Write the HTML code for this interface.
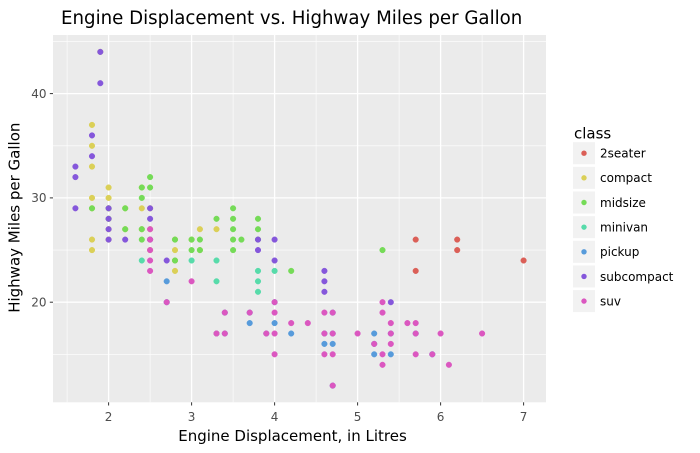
<!DOCTYPE html>
<html><head><meta charset="utf-8"><style>
html,body{margin:0;padding:0;background:#fff;}
svg{display:block;font-family:"DejaVu Sans","Liberation Sans",sans-serif;}
</style></head><body>
<svg width="700" height="453" viewBox="0 0 700 453" xmlns="http://www.w3.org/2000/svg">
<rect x="0" y="0" width="700" height="453" fill="#fff"/>
<text x="61" y="24" font-size="18.2" fill="#000">Engine Displacement vs. Highway Miles per Gallon</text>
<rect x="53" y="35" width="493" height="367.3" fill="#EBEBEB"/>
<g stroke="#fff" stroke-width="0.6">
<line x1="67.1" y1="35" x2="67.1" y2="402.3"/><line x1="150.1" y1="35" x2="150.1" y2="402.3"/><line x1="233.1" y1="35" x2="233.1" y2="402.3"/><line x1="316.1" y1="35" x2="316.1" y2="402.3"/><line x1="399.1" y1="35" x2="399.1" y2="402.3"/><line x1="482.1" y1="35" x2="482.1" y2="402.3"/>
<line x1="53" y1="354.3" x2="546" y2="354.3"/><line x1="53" y1="250.1" x2="546" y2="250.1"/><line x1="53" y1="145.8" x2="546" y2="145.8"/><line x1="53" y1="41.4" x2="546" y2="41.4"/>
</g>
<g stroke="#fff" stroke-width="1.3">
<line x1="108.6" y1="35" x2="108.6" y2="402.3"/><line x1="191.6" y1="35" x2="191.6" y2="402.3"/><line x1="274.6" y1="35" x2="274.6" y2="402.3"/><line x1="357.6" y1="35" x2="357.6" y2="402.3"/><line x1="440.6" y1="35" x2="440.6" y2="402.3"/><line x1="523.6" y1="35" x2="523.6" y2="402.3"/>
<line x1="53" y1="302.2" x2="546" y2="302.2"/><line x1="53" y1="197.9" x2="546" y2="197.9"/><line x1="53" y1="93.6" x2="546" y2="93.6"/>
</g>
<g stroke="#333" stroke-width="1">
<line x1="108.6" y1="402.3" x2="108.6" y2="405.5"/><line x1="191.6" y1="402.3" x2="191.6" y2="405.5"/><line x1="274.6" y1="402.3" x2="274.6" y2="405.5"/><line x1="357.6" y1="402.3" x2="357.6" y2="405.5"/><line x1="440.6" y1="402.3" x2="440.6" y2="405.5"/><line x1="523.6" y1="402.3" x2="523.6" y2="405.5"/>
<line x1="49.8" y1="302.2" x2="53" y2="302.2"/><line x1="49.8" y1="197.9" x2="53" y2="197.9"/><line x1="49.8" y1="93.6" x2="53" y2="93.6"/>
</g>
<g font-size="12" fill="#4D4D4D" text-anchor="middle">
<text x="108.6" y="421">2</text><text x="191.6" y="421">3</text><text x="274.6" y="421">4</text><text x="357.6" y="421">5</text><text x="440.6" y="421">6</text><text x="523.6" y="421">7</text>
</g>
<g font-size="12" fill="#4D4D4D" text-anchor="end">
<text x="46.5" y="306.5">20</text><text x="46.5" y="202.2">30</text><text x="46.5" y="97.9">40</text>
</g>
<text x="292.5" y="441" font-size="15" fill="#000" text-anchor="middle">Engine Displacement, in Litres</text>
<text transform="translate(19.5,217.7) rotate(-90)" font-size="15" fill="#000" text-anchor="middle">Highway Miles per Gallon</text>

<g fill="#DB5F57" stroke="#DB5F57" stroke-width="0.5">
<circle cx="415.7" cy="239.6" r="2.8"/><circle cx="415.7" cy="270.9" r="2.8"/><circle cx="457.2" cy="239.6" r="2.8"/><circle cx="457.2" cy="250.1" r="2.8"/><circle cx="523.6" cy="260.5" r="2.8"/>
</g>
<g fill="#DBD057" stroke="#DBD057" stroke-width="0.5">
<circle cx="92.0" cy="208.3" r="2.8"/><circle cx="108.6" cy="187.5" r="2.8"/><circle cx="108.6" cy="197.9" r="2.8"/><circle cx="175.0" cy="239.6" r="2.8"/><circle cx="199.9" cy="229.2" r="2.8"/><circle cx="92.0" cy="239.6" r="2.8"/><circle cx="92.0" cy="250.1" r="2.8"/><circle cx="108.6" cy="218.8" r="2.8"/><circle cx="108.6" cy="229.2" r="2.8"/><circle cx="175.0" cy="250.1" r="2.8"/><circle cx="199.9" cy="250.1" r="2.8"/><circle cx="141.8" cy="208.3" r="2.8"/><circle cx="141.8" cy="229.2" r="2.8"/><circle cx="150.1" cy="250.1" r="2.8"/><circle cx="150.1" cy="229.2" r="2.8"/><circle cx="125.2" cy="229.2" r="2.8"/><circle cx="125.2" cy="208.3" r="2.8"/><circle cx="141.8" cy="187.5" r="2.8"/><circle cx="191.6" cy="239.6" r="2.8"/><circle cx="216.5" cy="229.2" r="2.8"/><circle cx="92.0" cy="197.9" r="2.8"/><circle cx="92.0" cy="166.6" r="2.8"/><circle cx="92.0" cy="145.8" r="2.8"/><circle cx="92.0" cy="124.9" r="2.8"/><circle cx="108.6" cy="208.3" r="2.8"/><circle cx="108.6" cy="239.6" r="2.8"/><circle cx="175.0" cy="260.5" r="2.8"/><circle cx="100.3" cy="51.9" r="2.8"/><circle cx="150.1" cy="208.3" r="2.8"/><circle cx="175.0" cy="270.9" r="2.8"/>
</g>
<g fill="#75DB57" stroke="#75DB57" stroke-width="0.5">
<circle cx="175.0" cy="260.5" r="2.8"/><circle cx="199.9" cy="250.1" r="2.8"/><circle cx="291.2" cy="270.9" r="2.8"/><circle cx="141.8" cy="229.2" r="2.8"/><circle cx="141.8" cy="197.9" r="2.8"/><circle cx="199.9" cy="239.6" r="2.8"/><circle cx="233.1" cy="208.3" r="2.8"/><circle cx="241.4" cy="239.6" r="2.8"/><circle cx="141.8" cy="239.6" r="2.8"/><circle cx="141.8" cy="187.5" r="2.8"/><circle cx="150.1" cy="239.6" r="2.8"/><circle cx="216.5" cy="218.8" r="2.8"/><circle cx="150.1" cy="187.5" r="2.8"/><circle cx="150.1" cy="177.1" r="2.8"/><circle cx="233.1" cy="229.2" r="2.8"/><circle cx="233.1" cy="239.6" r="2.8"/><circle cx="191.6" cy="239.6" r="2.8"/><circle cx="191.6" cy="250.1" r="2.8"/><circle cx="233.1" cy="250.1" r="2.8"/><circle cx="258.0" cy="239.6" r="2.8"/><circle cx="258.0" cy="229.2" r="2.8"/><circle cx="258.0" cy="218.8" r="2.8"/><circle cx="382.5" cy="250.1" r="2.8"/><circle cx="125.2" cy="208.3" r="2.8"/><circle cx="125.2" cy="229.2" r="2.8"/><circle cx="233.1" cy="218.8" r="2.8"/><circle cx="92.0" cy="208.3" r="2.8"/><circle cx="108.6" cy="218.8" r="2.8"/><circle cx="108.6" cy="208.3" r="2.8"/><circle cx="175.0" cy="239.6" r="2.8"/>
</g>
<g fill="#57DBAA" stroke="#57DBAA" stroke-width="0.5">
<circle cx="141.8" cy="260.5" r="2.8"/><circle cx="191.6" cy="260.5" r="2.8"/><circle cx="216.5" cy="281.3" r="2.8"/><circle cx="216.5" cy="260.5" r="2.8"/><circle cx="216.5" cy="333.5" r="2.8"/><circle cx="258.0" cy="281.3" r="2.8"/><circle cx="258.0" cy="291.8" r="2.8"/><circle cx="258.0" cy="270.9" r="2.8"/><circle cx="274.6" cy="270.9" r="2.8"/>
</g>
<g fill="#579BDB" stroke="#579BDB" stroke-width="0.5">
<circle cx="249.7" cy="312.6" r="2.8"/><circle cx="249.7" cy="323.1" r="2.8"/><circle cx="266.3" cy="333.5" r="2.8"/><circle cx="332.7" cy="312.6" r="2.8"/><circle cx="332.7" cy="385.6" r="2.8"/><circle cx="374.2" cy="333.5" r="2.8"/><circle cx="332.7" cy="343.9" r="2.8"/><circle cx="332.7" cy="333.5" r="2.8"/><circle cx="374.2" cy="354.3" r="2.8"/><circle cx="374.2" cy="343.9" r="2.8"/><circle cx="415.7" cy="333.5" r="2.8"/><circle cx="432.3" cy="354.3" r="2.8"/><circle cx="291.2" cy="333.5" r="2.8"/><circle cx="324.4" cy="343.9" r="2.8"/><circle cx="324.4" cy="333.5" r="2.8"/><circle cx="390.8" cy="354.3" r="2.8"/><circle cx="390.8" cy="333.5" r="2.8"/><circle cx="166.7" cy="302.2" r="2.8"/><circle cx="166.7" cy="281.3" r="2.8"/><circle cx="224.8" cy="333.5" r="2.8"/><circle cx="224.8" cy="312.6" r="2.8"/><circle cx="274.6" cy="323.1" r="2.8"/><circle cx="274.6" cy="302.2" r="2.8"/>
</g>
<g fill="#8557DB" stroke="#8557DB" stroke-width="0.5">
<circle cx="258.0" cy="239.6" r="2.8"/><circle cx="258.0" cy="250.1" r="2.8"/><circle cx="274.6" cy="239.6" r="2.8"/><circle cx="274.6" cy="260.5" r="2.8"/><circle cx="324.4" cy="291.8" r="2.8"/><circle cx="324.4" cy="281.3" r="2.8"/><circle cx="324.4" cy="270.9" r="2.8"/><circle cx="390.8" cy="302.2" r="2.8"/><circle cx="75.4" cy="166.6" r="2.8"/><circle cx="75.4" cy="177.1" r="2.8"/><circle cx="75.4" cy="208.3" r="2.8"/><circle cx="92.0" cy="156.2" r="2.8"/><circle cx="92.0" cy="135.4" r="2.8"/><circle cx="108.6" cy="208.3" r="2.8"/><circle cx="108.6" cy="239.6" r="2.8"/><circle cx="108.6" cy="218.8" r="2.8"/><circle cx="108.6" cy="229.2" r="2.8"/><circle cx="166.7" cy="260.5" r="2.8"/><circle cx="125.2" cy="239.6" r="2.8"/><circle cx="150.1" cy="239.6" r="2.8"/><circle cx="100.3" cy="51.9" r="2.8"/><circle cx="100.3" cy="83.2" r="2.8"/><circle cx="150.1" cy="218.8" r="2.8"/><circle cx="150.1" cy="208.3" r="2.8"/>
</g>
<g fill="#DB57C0" stroke="#DB57C0" stroke-width="0.5">
<circle cx="382.5" cy="302.2" r="2.8"/><circle cx="382.5" cy="354.3" r="2.8"/><circle cx="415.7" cy="333.5" r="2.8"/><circle cx="440.6" cy="333.5" r="2.8"/><circle cx="382.5" cy="312.6" r="2.8"/><circle cx="382.5" cy="364.8" r="2.8"/><circle cx="415.7" cy="354.3" r="2.8"/><circle cx="482.1" cy="333.5" r="2.8"/><circle cx="266.3" cy="333.5" r="2.8"/><circle cx="332.7" cy="333.5" r="2.8"/><circle cx="332.7" cy="385.6" r="2.8"/><circle cx="374.2" cy="343.9" r="2.8"/><circle cx="415.7" cy="323.1" r="2.8"/><circle cx="432.3" cy="354.3" r="2.8"/><circle cx="324.4" cy="333.5" r="2.8"/><circle cx="390.8" cy="333.5" r="2.8"/><circle cx="390.8" cy="323.1" r="2.8"/><circle cx="274.6" cy="333.5" r="2.8"/><circle cx="274.6" cy="312.6" r="2.8"/><circle cx="324.4" cy="312.6" r="2.8"/><circle cx="357.6" cy="333.5" r="2.8"/><circle cx="191.6" cy="281.3" r="2.8"/><circle cx="249.7" cy="312.6" r="2.8"/><circle cx="274.6" cy="302.2" r="2.8"/><circle cx="332.7" cy="312.6" r="2.8"/><circle cx="448.9" cy="364.8" r="2.8"/><circle cx="274.6" cy="354.3" r="2.8"/><circle cx="291.2" cy="323.1" r="2.8"/><circle cx="307.8" cy="323.1" r="2.8"/><circle cx="324.4" cy="354.3" r="2.8"/><circle cx="390.8" cy="343.9" r="2.8"/><circle cx="216.5" cy="333.5" r="2.8"/><circle cx="407.4" cy="323.1" r="2.8"/><circle cx="150.1" cy="250.1" r="2.8"/><circle cx="150.1" cy="260.5" r="2.8"/><circle cx="150.1" cy="229.2" r="2.8"/><circle cx="150.1" cy="239.6" r="2.8"/><circle cx="150.1" cy="270.9" r="2.8"/><circle cx="166.7" cy="302.2" r="2.8"/><circle cx="224.8" cy="312.6" r="2.8"/><circle cx="224.8" cy="333.5" r="2.8"/><circle cx="332.7" cy="354.3" r="2.8"/>
</g>

<text x="574" y="138.3" font-size="15" fill="#000">class</text>
<g fill="#F2F2F2">
<rect x="573" y="142.2" width="22" height="22"/><rect x="573" y="166.85" width="22" height="22"/><rect x="573" y="191.5" width="22" height="22"/><rect x="573" y="216.15" width="22" height="22"/><rect x="573" y="240.8" width="22" height="22"/><rect x="573" y="265.45" width="22" height="22"/><rect x="573" y="290.1" width="22" height="22"/>
</g>
<circle cx="584" cy="153.2" r="2.7" fill="#DB5F57"/>
<circle cx="584" cy="177.85" r="2.7" fill="#DBD057"/>
<circle cx="584" cy="202.5" r="2.7" fill="#75DB57"/>
<circle cx="584" cy="227.15" r="2.7" fill="#57DBAA"/>
<circle cx="584" cy="251.8" r="2.7" fill="#579BDB"/>
<circle cx="584" cy="276.45" r="2.7" fill="#8557DB"/>
<circle cx="584" cy="301.1" r="2.7" fill="#DB57C0"/>
<g font-size="12" fill="#000">
<text x="600" y="157.5">2seater</text>
<text x="600" y="182.15">compact</text>
<text x="600" y="206.8">midsize</text>
<text x="600" y="231.45">minivan</text>
<text x="600" y="256.1">pickup</text>
<text x="600" y="280.75">subcompact</text>
<text x="600" y="305.4">suv</text>
</g>
</svg>
</body></html>
